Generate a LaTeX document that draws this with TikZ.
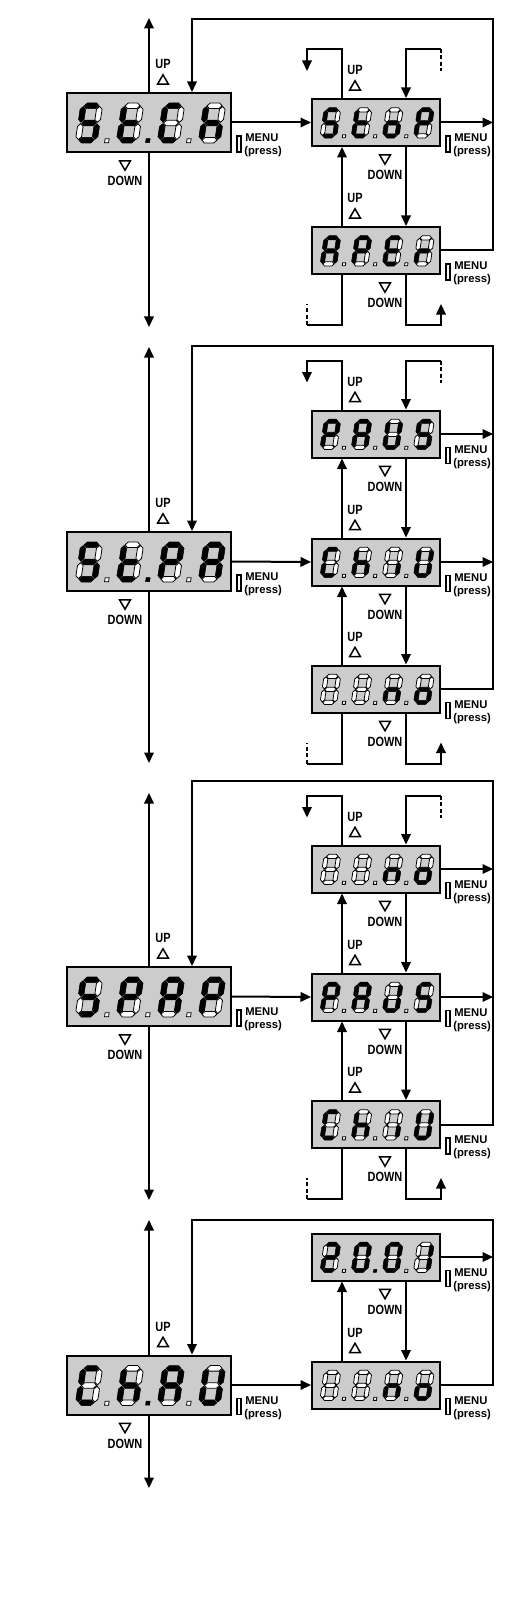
\documentclass[tikz,border=0pt]{standalone}
\usepackage{fontspec}
\setmainfont{Liberation Sans}
\newfontfamily\keyfont{Liberation Sans}[FakeStretch=0.82]
\usetikzlibrary{arrows.meta,shapes.geometric}

\makeatletter
% seven-segment outlines (digit 22 x 40, y up)
\newcommand{\hseg}[1]{(3.5,#1) -- (6.3,#1+2.8) -- (15.7,#1+2.8) -- (18.5,#1) -- (15.7,#1-2.8) -- (6.3,#1-2.8) -- cycle}
\newcommand{\vseg}[3]{(#1,#2) -- (#1+2.8,#2+2.8) -- (#1+2.8,#3-2.8) -- (#1,#3) -- (#1-2.8,#3-2.8) -- (#1-2.8,#2+2.8) -- cycle}
\def\seg@a{\hseg{37.2}}
\def\seg@b{\vseg{19.2}{20.7}{36.5}}
\def\seg@c{\vseg{19.2}{3.5}{19.3}}
\def\seg@d{\hseg{2.8}}
\def\seg@e{\vseg{2.8}{3.5}{19.3}}
\def\seg@f{\vseg{2.8}{20.7}{36.5}}
\def\seg@g{\hseg{20}}
% one digit: #1 lit segments, #2 point (0 off, 1 on, 2 none)
\newcommand{\lcddigit}[2]{%
  \foreach \sg in {a,b,c,d,e,f,g}{%
    \edef\next{\noexpand\in@{\sg}{#1}}\next
    \expandafter\let\expandafter\segpath\csname seg@\sg\endcsname
    \ifin@ \path[segon] \segpath; \else \path[segoff] \segpath; \fi
  }%
  \ifcase#2\relax \path[segoff] (29.5,0.3) rectangle (33.5,4.3);
  \or \path[segon] (29.5,0.3) rectangle (33.5,4.3);
  \fi
}
\makeatother

% four digits inside a display node
\newcommand{\lcd}[3]{%
  \foreach \segs/\dpt [count=\i from 0] in {#3}{%
    \begin{scope}[shift={(#1.center)}, shift={({#2*(-74+41*\i)},{#2*20.5})}, scale=#2, xslant=0.15, yscale=-1]
      \lcddigit{\segs}{\dpt}
    \end{scope}}}

% key labels
\newcommand{\upkey}[2]{%
  \node[uptri] (#1-up) at ([shift={(#2,-11)}]#1.north) {};
  \node[keytxt] (#1-uptxt) at ([shift={(#2,-28)}]#1.north) {UP};}
\newcommand{\downkey}[2]{%
  \node[dntri] (#1-dn) at ([shift={(#2,11)}]#1.south) {};
  \node[keytxt] (#1-dntxt) at ([shift={(#2,28)}]#1.south) {DOWN};}
\newcommand{\menukey}[2]{%
  \node[menubtn] (#1-btn) at ([shift={(7,{-3+#2})}]#1.south east) {};
  \node[menutxt] (#1-menu) at ([shift={(13,{-9+#2})}]#1.south east) {MENU};
  \node[menutxt] (#1-press) at ([shift={(12,{5+#2})}]#1.south east) {(press)};}

% open ends above and below a column
\newcommand{\topstubs}[1]{%
  \draw[flow] ([shift={(-34,0)}]#1.north) |- ([shift={(-69,-49)}]#1.north) -- ++(0,22);
  \draw[flow] ([shift={(65,-49)}]#1.north) -| ([shift={(30,0)}]#1.north);
  \draw[stub] ([shift={(65,-49)}]#1.north) -- ++(0,22);}
\newcommand{\bottomstubs}[1]{%
  \draw[wire] ([shift={(-34,0)}]#1.south) |- ([shift={(-69,50)}]#1.south);
  \draw[stub] ([shift={(-69,50)}]#1.south) -- ++(0,-21);
  \draw[flow] ([shift={(30,0)}]#1.south) |- ([shift={(65,50)}]#1.south) -- ++(0,-21);}

\begin{document}
\begin{tikzpicture}[
    x=0.2mm, y=-0.2mm,
    disp/.style={draw, line width=0.4mm, fill=black!20, minimum width=32.8mm, minimum height=11.8mm, inner sep=0pt},
    dispsm/.style={disp, minimum width=25.6mm, minimum height=9.4mm},
    segon/.style={fill=black, draw=black, line width=0.3pt},
    segoff/.style={fill=white, draw=black, line width=0.45pt},
    wire/.style={line width=0.4mm},
    flow/.style={wire, -{Triangle[length=2.1mm, width=1.9mm]}},
    stub/.style={wire, dash pattern=on 0.8mm off 0.5mm},
    keytxt/.style={font=\keyfont\bfseries\fontsize{7.6}{8}\selectfont, inner sep=0pt},
    menutxt/.style={font=\bfseries\fontsize{6.4}{7}\selectfont, inner sep=0pt, anchor=west},
    uptri/.style={draw, fill=white, line width=0.3mm, regular polygon, regular polygon sides=3, minimum size=2.5mm, inner sep=0pt},
    dntri/.style={uptri, shape border rotate=180},
    menubtn/.style={draw, fill=white, line width=0.3mm, minimum width=0.8mm, minimum height=3.2mm, inner sep=0pt}
]
\useasboundingbox (0,0) rectangle (508,1603);

% Section 1: St.Ch
\node[disp] (stch) at (149,122.5) {};
\node[dispsm] (stop) at (376,122.5) {};
\node[dispsm] (aper) at (376,250.5) {};
\lcd{stch}{1}{afgcd/0, fedg/1, afed/0, fegc/2}
\lcd{stop}{0.76}{afgcd/0, fedg/0, gcde/0, abfge/2}
\lcd{aper}{0.76}{abcefg/0, abfge/0, afged/0, eg/2}

\coordinate (top1) at (149,18);
\coordinate (bot1) at (149,327);
\coordinate (loop1) at (493,19);
\draw[flow] (stch.north) -- (top1);
\draw[flow] (stch.south) -- (bot1);
\draw[flow] (stch.east) -- (stop.west);
\draw[flow] (aper.east) -| (loop1) -| ([shift={(43,0)}]stch.north);
\draw[flow] (stop.east) -- (stop.east -| loop1);
\draw[flow] ([shift={(-34,0)}]aper.north) -- ([shift={(-34,0)}]stop.south);
\draw[flow] ([shift={(30,0)}]stop.south) -- ([shift={(30,0)}]aper.north);
\topstubs{stop}
\bottomstubs{aper}

\upkey{stch}{14} \downkey{stch}{-24} \menukey{stch}{-6}
\upkey{stop}{-21} \downkey{stop}{9} \menukey{stop}{0}
\upkey{aper}{-21} \downkey{aper}{9} \menukey{aper}{0}

% Section 2: St.PA
\node[disp] (stpa) at (149,561.5) {};
\node[dispsm] (paus) at (376,434) {};
\node[dispsm] (chiu) at (376,562) {};
\node[dispsm] (nosel) at (376,689) {};
\lcd{stpa}{1}{afgcd/0, fedg/1, abfge/0, abcefg/2}
\lcd{paus}{0.76}{abfge/0, abcefg/0, bcdef/0, afgcd/2}
\lcd{chiu}{0.76}{afed/0, fegc/0, c/0, bcdef/2}
\lcd{nosel}{0.76}{-/0, -/0, egc/0, gcde/2}

\coordinate (top2) at (149,347);
\coordinate (bot2) at (149,763);
\coordinate (loop2) at (493,346);
\draw[flow] (stpa.north) -- (top2);
\draw[flow] (stpa.south) -- (bot2);
\draw[flow] (stpa.east) -- (chiu.west);
\draw[flow] (nosel.east) -| (loop2) -| ([shift={(43,0)}]stpa.north);
\draw[flow] (paus.east) -- (paus.east -| loop2);
\draw[flow] (chiu.east) -- (chiu.east -| loop2);
\draw[flow] ([shift={(-34,0)}]chiu.north) -- ([shift={(-34,0)}]paus.south);
\draw[flow] ([shift={(-34,0)}]nosel.north) -- ([shift={(-34,0)}]chiu.south);
\draw[flow] ([shift={(30,0)}]paus.south) -- ([shift={(30,0)}]chiu.north);
\draw[flow] ([shift={(30,0)}]chiu.south) -- ([shift={(30,0)}]nosel.north);
\topstubs{paus}
\bottomstubs{nosel}

\upkey{stpa}{14} \downkey{stpa}{-24} \menukey{stpa}{-6}
\upkey{paus}{-21} \downkey{paus}{9} \menukey{paus}{0}
\upkey{chiu}{-21} \downkey{chiu}{9} \menukey{chiu}{0}
\upkey{nosel}{-21} \downkey{nosel}{9} \menukey{nosel}{0}

% Section 3: SPAP
\node[disp] (spap) at (149,996.5) {};
\node[dispsm] (nosel3) at (376,869) {};
\node[dispsm] (paus3) at (376,997) {};
\node[dispsm] (chiu3) at (376,1124.5) {};
\lcd{spap}{1}{afgcd/0, abfge/0, abcefg/0, abfge/2}
\lcd{nosel3}{0.76}{-/0, -/0, egc/0, gcde/2}
\lcd{paus3}{0.76}{abfge/0, abcefg/0, bcde/0, afgcd/2}
\lcd{chiu3}{0.76}{afed/0, fegc/0, c/0, bcdef/2}

\coordinate (top3) at (149,793);
\coordinate (bot3) at (149,1200);
\coordinate (loop3) at (493,781);
\draw[flow] (spap.north) -- (top3);
\draw[flow] (spap.south) -- (bot3);
\draw[flow] (spap.east) -- (paus3.west);
\draw[flow] (chiu3.east) -| (loop3) -| ([shift={(43,0)}]spap.north);
\draw[flow] (nosel3.east) -- (nosel3.east -| loop3);
\draw[flow] (paus3.east) -- (paus3.east -| loop3);
\draw[flow] ([shift={(-34,0)}]paus3.north) -- ([shift={(-34,0)}]nosel3.south);
\draw[flow] ([shift={(-34,0)}]chiu3.north) -- ([shift={(-34,0)}]paus3.south);
\draw[flow] ([shift={(30,0)}]nosel3.south) -- ([shift={(30,0)}]paus3.north);
\draw[flow] ([shift={(30,0)}]paus3.south) -- ([shift={(30,0)}]chiu3.north);
\topstubs{nosel3}
\bottomstubs{chiu3}

\upkey{spap}{14} \downkey{spap}{-24} \menukey{spap}{-6}
\upkey{nosel3}{-21} \downkey{nosel3}{9} \menukey{nosel3}{0}
\upkey{paus3}{-21} \downkey{paus3}{9} \menukey{paus3}{0}
\upkey{chiu3}{-21} \downkey{chiu3}{9} \menukey{chiu3}{0}

% Section 4: Ch.AU
\node[disp] (chau) at (149,1385) {};
\node[dispsm] (year) at (376,1257) {};
\node[dispsm] (nosel4) at (376,1385) {};
\lcd{chau}{1}{afed/0, fegc/1, abcefg/0, bcdef/2}
\lcd{year}{0.76}{abged/0, abcdef/1, abcdef/0, bc/2}
\lcd{nosel4}{0.76}{-/0, -/0, egc/0, gcde/2}

\coordinate (top4) at (149,1220);
\coordinate (bot4) at (149,1488);
\coordinate (loop4) at (493,1220);
\draw[flow] (chau.north) -- (top4);
\draw[flow] (chau.south) -- (bot4);
\draw[flow] (chau.east) -- (nosel4.west);
\draw[flow] (nosel4.east) -| (loop4) -| ([shift={(43,0)}]chau.north);
\draw[flow] (year.east) -- (year.east -| loop4);
\draw[flow] ([shift={(-34,0)}]nosel4.north) -- ([shift={(-34,0)}]year.south);
\draw[flow] ([shift={(30,0)}]year.south) -- ([shift={(30,0)}]nosel4.north);

\upkey{chau}{14} \downkey{chau}{-24} \menukey{chau}{-6}
\downkey{year}{9} \menukey{year}{0}
\upkey{nosel4}{-21} \menukey{nosel4}{0}

\end{tikzpicture}
\end{document}
